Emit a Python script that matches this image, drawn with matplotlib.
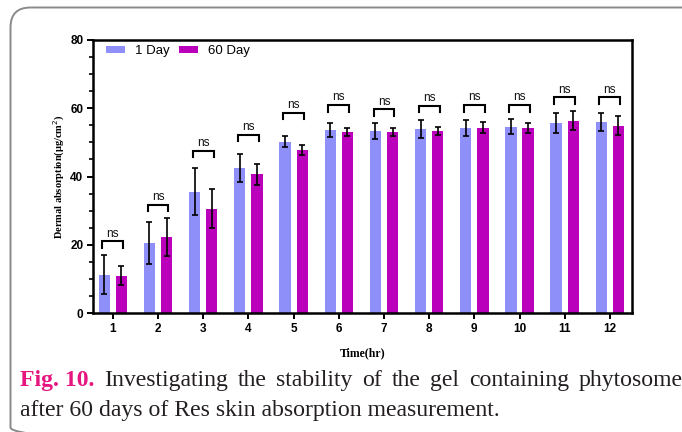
import matplotlib
matplotlib.use("Agg")
import matplotlib.pyplot as plt
import numpy as np
from matplotlib.patches import FancyBboxPatch
from matplotlib.ticker import MultipleLocator

hours = [1, 2, 3, 4, 5, 6, 7, 8, 9, 10, 11, 12]
day1 = [11.2, 20.6, 35.6, 42.6, 50.2, 53.7, 53.4, 54.0, 54.3, 54.6, 55.6, 56.0]
day1_err = [5.7, 6.2, 6.8, 4.1, 1.6, 2.1, 2.4, 2.7, 2.4, 2.2, 2.9, 2.7]
day60 = [10.9, 22.3, 30.6, 40.7, 47.7, 53.1, 53.1, 53.4, 54.3, 54.3, 56.4, 54.9]
day60_err = [2.8, 5.5, 5.6, 3.1, 1.4, 1.1, 1.1, 1.1, 1.6, 1.5, 2.9, 2.8]
bracket_y = [21.0, 31.7, 47.6, 52.2, 58.7, 60.9, 59.7, 60.7, 60.9, 60.9, 63.2, 63.2]
sig_labels = ["ns"] * 12
series_names = ["1 Day", "60 Day"]
y_ticks = [0, 20, 40, 60, 80]

W, H = 682, 432
fig = plt.figure(figsize=(W / 100, H / 100), dpi=100)
fig.patch.set_facecolor("white")

# background overlay in pixel coordinates
bg = fig.add_axes([0, 0, 1, 1])
bg.set_xlim(0, W)
bg.set_ylim(H, 0)
bg.axis("off")
box = FancyBboxPatch((10.5, 7.5), 700, 440, boxstyle="round,pad=0,rounding_size=20",
                     facecolor="none", edgecolor="#8a8a8a", linewidth=1.4)
bg.add_patch(box)

ax = fig.add_axes([93 / W, 1 - 313 / H, (632 - 93) / W, (313 - 40) / H])
x = np.array(hours, dtype=float)
off = 0.19
bw = 0.25
c1 = "#8f8ff9"
c2 = "#bb00bb"
ax.bar(x - off, day1, bw, color=c1, label=series_names[0], zorder=2)
ax.bar(x + off, day60, bw, color=c2, label=series_names[1], zorder=2)
ek = dict(fmt="none", ecolor="black", elinewidth=1.2, capsize=2.5, capthick=1.2, zorder=3)
ax.errorbar(x - off, day1, yerr=day1_err, **ek)
ax.errorbar(x + off, day60, yerr=day60_err, **ek)

for xi, by, lab in zip(x, bracket_y, sig_labels):
    ax.plot([xi - 0.23, xi - 0.23, xi + 0.23, xi + 0.23], [by - 1.9, by, by, by - 1.9],
            color="black", lw=1.5, solid_joinstyle="miter", zorder=3)
    ax.text(xi, by + 0.5, lab, ha="center", va="bottom", fontsize=8.5,
            family="Liberation Sans", color="#111")

ax.set_xlim(0.56, 12.49)
ax.set_ylim(0, 80)
ax.set_yticks(y_ticks)
ax.yaxis.set_minor_locator(MultipleLocator(5))
ax.set_xticks(hours)
ax.set_xticklabels([str(h) for h in hours])
for sp in ax.spines.values():
    sp.set_linewidth(1.8)
ax.tick_params(axis="both", which="major", length=4.5, width=1.4, labelsize=8.5, pad=2.5)
ax.tick_params(axis="y", which="minor", length=3, width=1.2)
for lab in ax.get_xticklabels() + ax.get_yticklabels():
    lab.set_fontweight("bold")
    lab.set_family("Liberation Sans")

ax.set_ylabel("Dermal absorption(μg/cm$^2$)", fontsize=7.5, fontweight="bold",
              family="Liberation Serif", labelpad=2)
ax.set_xlabel("Time(hr)", fontsize=8.5, fontweight="bold", family="Liberation Serif", labelpad=9)

leg = ax.legend(loc="upper left", ncol=2, frameon=False,
                prop={"family": "Liberation Sans", "size": 9.5},
                handlelength=1.45, handleheight=0.55, handletextpad=0.7,
                columnspacing=0.75, bbox_to_anchor=(0.01, 1.01), borderaxespad=0.2)

# caption (first line justified to the right edge)
cap_size = 17.1
cap_color = "#231f20"
line1_words = ["Investigating", "the", "stability", "of", "the", "gel", "containing", "phytosome"]
line2 = "after 60 days of Res skin absorption measurement."
base1 = 1 - 386 / H
base2 = 1 - 416 / H
fig.canvas.draw()
r = fig.canvas.get_renderer()
t1 = fig.text(20 / W, base1, "Fig. 10.", fontsize=cap_size, family="Liberation Serif",
              fontweight="bold", color="#e6157f", va="baseline", ha="left")
words = [fig.text(0, base1, w, fontsize=cap_size, family="Liberation Serif", color=cap_color,
                  va="baseline", ha="left") for w in line1_words]
x0 = t1.get_window_extent(r).x1
widths = [w.get_window_extent(r).width for w in words]
right_edge = 683.0
gap = (right_edge - x0 - sum(widths)) / len(words)
cur = x0 + gap
for w, wd in zip(words, widths):
    w.set_x(cur / W)
    cur += wd + gap
fig.text(20 / W, base2, line2, fontsize=cap_size, family="Liberation Serif", color=cap_color,
         va="baseline", ha="left")

fig.savefig("out.png", dpi=100)
